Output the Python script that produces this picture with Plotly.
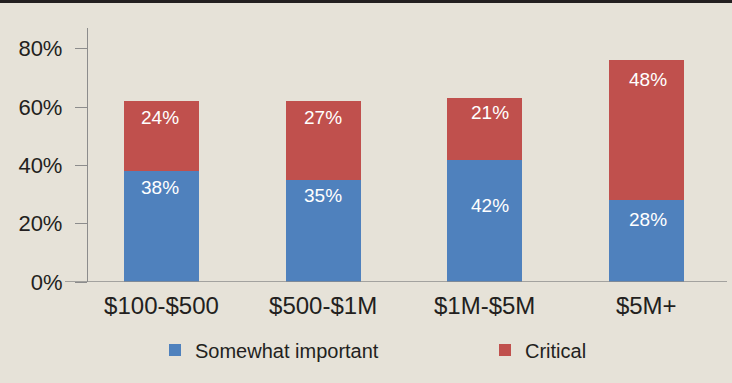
import plotly.graph_objects as go

categories = ["$100-$500", "$500-$1M", "$1M-$5M", "$5M+"]
somewhat_important = [38, 35, 42, 28]
critical = [24, 27, 21, 48]
tick_vals = [0, 20, 40, 60, 80]
tick_text = ["0%", "20%", "40%", "60%", "80%"]

BLUE = "#4F81BD"
RED = "#C0504D"
BG = "#E6E2D8"
TXT = "#231F20"
AX = "#8C8C8C"
FONT = "Liberation Sans, Arial, sans-serif"

fig = go.Figure()
fig.add_trace(go.Bar(x=categories, y=somewhat_important, name="Somewhat important",
                     marker=dict(color=BLUE, line=dict(width=0)), width=0.465, legendwidth=285))
fig.add_trace(go.Bar(x=categories, y=critical, name="Critical",
                     marker=dict(color=RED, line=dict(width=0)), width=0.465))

# value labels
blue_shift = [-16, -16, -46, -19]
red_shift = [-16, -16, -14, -19]
x_shift = [-2, 0, 5, 2]
annotations = []
for i, c in enumerate(categories):
    annotations.append(dict(x=c, y=somewhat_important[i], text=f"{somewhat_important[i]}%",
                            showarrow=False, yanchor="middle", yshift=blue_shift[i], xshift=x_shift[i],
                            font=dict(family=FONT, size=19, color="white")))
    top = somewhat_important[i] + critical[i]
    annotations.append(dict(x=c, y=top, text=f"{critical[i]}%",
                            showarrow=False, yanchor="middle", yshift=red_shift[i], xshift=x_shift[i],
                            font=dict(family=FONT, size=19, color="white")))

W, H = 732, 383
L, R, T, B = 88, 5, 28, 101
pw, ph = W - L - R, H - T - B

shapes = [
    dict(type="line", xref="paper", yref="y", x0=(65 - L) / pw, x1=1.0, y0=0, y1=0,
         line=dict(color=AX, width=1.6), layer="above"),
    dict(type="rect", xref="paper", yref="paper", x0=-L / pw, x1=1 + R / pw,
         y0=1 + (T - 3) / ph, y1=1 + T / ph, fillcolor=TXT, line=dict(width=0), layer="below"),
]

fig.update_layout(
    barmode="stack",
    width=W, height=H,
    margin=dict(l=L, r=R, t=T, b=B, pad=0),
    paper_bgcolor=BG, plot_bgcolor=BG,
    font=dict(family=FONT, color=TXT),
    showlegend=True,
    legend=dict(orientation="h", x=(155 - L) / pw, xanchor="left", y=-(350 - 282) / ph, yanchor="middle",
                font=dict(family=FONT, size=20, color=TXT),
                bgcolor="rgba(0,0,0,0)", traceorder="normal"),
    xaxis=dict(range=[-0.455, 3.5], showgrid=False, zeroline=False, showline=False,
               ticks="", tickfont=dict(family=FONT, size=24, color=TXT), ticklabelstandoff=7),
    yaxis=dict(range=[0, 87.1], tickvals=tick_vals, ticktext=tick_text, showgrid=False,
               zeroline=False, showline=True, linecolor=AX, linewidth=1.3,
               ticks="outside", ticklen=12, tickcolor=AX, tickwidth=1.3,
               tickfont=dict(family=FONT, size=22, color=TXT), ticklabelstandoff=8),
    annotations=annotations,
    shapes=shapes,
)

fig.write_html("out.html")
